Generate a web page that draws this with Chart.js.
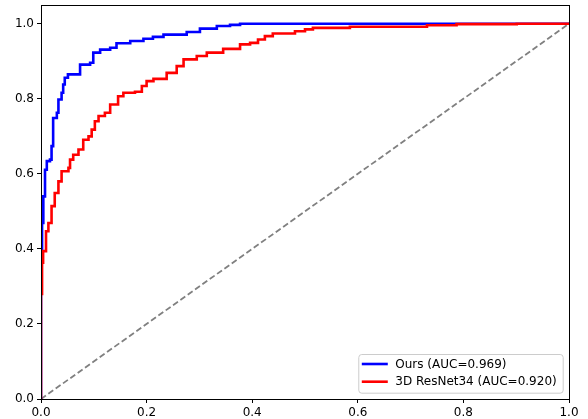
<!DOCTYPE html>
<html>
<head>
<meta charset="utf-8">
<script src="https://cdn.jsdelivr.net/npm/chart.js@4"></script>
<style>
  html, body { margin: 0; padding: 0; background: #fff; }
</style>
</head>
<body>
<canvas id="roc" width="588" height="419"></canvas>
<script>
// ROC points (fpr, tpr)
const oursFpr = [0, 0, 0.002, 0.0044, 0.0076, 0.011, 0.017, 0.020, 0.023, 0.030, 0.033, 0.039, 0.042, 0.045, 0.051, 0.074, 0.093, 0.099, 0.112, 0.131, 0.143, 0.169, 0.194, 0.212, 0.232, 0.276, 0.301, 0.333, 0.358, 0.377, 1.0];
const oursTpr = [0, 0.40, 0.469, 0.54, 0.611, 0.634, 0.638, 0.674, 0.749, 0.763, 0.798, 0.816, 0.838, 0.856, 0.865, 0.891, 0.896, 0.923, 0.931, 0.936, 0.948, 0.954, 0.96, 0.965, 0.971, 0.978, 0.987, 0.994, 0.997, 1.0, 1.0];

const resnetFpr = [0, 0, 0.002, 0.004, 0.0095, 0.014, 0.020, 0.026, 0.033, 0.039, 0.052, 0.055, 0.061, 0.071, 0.080, 0.090, 0.096, 0.102, 0.109, 0.121, 0.131, 0.146, 0.156, 0.178, 0.191, 0.200, 0.213, 0.238, 0.257, 0.270, 0.295, 0.314, 0.345, 0.377, 0.396, 0.411, 0.424, 0.439, 0.481, 0.500, 0.515, 0.585, 0.731, 0.787, 0.901, 1.0];
const resnetTpr = [0, 0.28, 0.363, 0.394, 0.447, 0.469, 0.514, 0.549, 0.58, 0.607, 0.616, 0.638, 0.651, 0.665, 0.691, 0.70, 0.718, 0.74, 0.754, 0.763, 0.785, 0.807, 0.816, 0.819, 0.834, 0.847, 0.853, 0.869, 0.887, 0.905, 0.914, 0.923, 0.933, 0.945, 0.949, 0.958, 0.967, 0.974, 0.98, 0.985, 0.989, 0.992, 0.996, 0.999, 1.0, 1.0];

const chanceX = [0, 1];
const chanceY = [0, 1];

const seriesLabels = ["Ours (AUC=0.969)", "3D ResNet34 (AUC=0.920)"];
const tickValues = [0, 0.2, 0.4, 0.6, 0.8, 1.0];

function toPoints(xs, ys) {
  return xs.map((x, i) => ({ x: x, y: ys[i] }));
}

const FONT = "DejaVu Sans";

// box around the plot + legend inside the axes, matplotlib style
const framePlugin = {
  id: "frame",
  afterDraw(chart) {
    const ctx = chart.ctx;
    const a = chart.chartArea;
    ctx.save();
    ctx.strokeStyle = "#000";
    ctx.lineWidth = 1;
    ctx.strokeRect(Math.round(a.left) + 0.5, Math.round(a.top) + 0.5,
      Math.round(a.right - a.left), Math.round(a.bottom - a.top));

    // legend
    ctx.font = "12px '" + FONT + "'";
    const items = chart.data.datasets.filter(d => d.label);
    let tw = 0;
    items.forEach(d => { tw = Math.max(tw, ctx.measureText(d.label).width); });
    const w = 4 + 26 + 7.5 + tw + 5.5;
    const h = 38.7;
    const x0 = a.right - 6.3 - w;
    const y0 = a.bottom - 6.3 - h;
    ctx.beginPath();
    ctx.roundRect(x0 + 0.5, y0 + 0.5, w, h, 3);
    ctx.fillStyle = "rgba(255,255,255,0.8)";
    ctx.fill();
    ctx.strokeStyle = "#cccccc";
    ctx.lineWidth = 1;
    ctx.stroke();
    items.forEach((d, i) => {
      const cy = y0 + 10 + i * 17.7;
      ctx.beginPath();
      ctx.moveTo(x0 + 3.5, cy);
      ctx.lineTo(x0 + 29.5, cy);
      ctx.strokeStyle = d.borderColor;
      ctx.lineWidth = 2.6;
      ctx.stroke();
      ctx.fillStyle = "#000";
      ctx.textBaseline = "middle";
      ctx.textAlign = "left";
      ctx.fillText(d.label, x0 + 37, cy + 0.5);
    });
    ctx.restore();
  }
};

const axisCommon = {
  type: "linear",
  min: 0,
  grid: {
    drawOnChartArea: false,
    drawTicks: true,
    tickLength: 4,
    tickWidth: 1,
    tickColor: "#000"
  },
  border: { display: false },
  ticks: {
    color: "#000",
    padding: 3,
    font: { family: FONT, size: 12 },
    callback: v => v.toFixed(1)
  },
  afterBuildTicks: scale => {
    scale.ticks = tickValues.map(v => ({ value: v }));
  }
};

new Chart(document.getElementById("roc"), {
  type: "line",
  data: {
    datasets: [
      {
        label: seriesLabels[0],
        data: toPoints(oursFpr, oursTpr),
        borderColor: "#0000ff",
        borderWidth: 2.6,
        stepped: "before",
        order: 2
      },
      {
        label: seriesLabels[1],
        data: toPoints(resnetFpr, resnetTpr),
        borderColor: "#ff0000",
        borderWidth: 2.6,
        stepped: "before",
        order: 1
      },
      {
        data: toPoints(chanceX, chanceY),
        borderColor: "#808080",
        borderWidth: 1.8,
        borderDash: [6, 3],
        order: 3
      }
    ]
  },
  options: {
    responsive: false,
    animation: false,
    layout: { padding: { top: 5, right: 19, left: 0, bottom: 0 } },
    elements: { point: { radius: 0 }, line: { tension: 0 } },
    plugins: {
      legend: { display: false },
      tooltip: { enabled: false }
    },
    scales: {
      x: Object.assign({}, axisCommon, {
        max: 1,
        afterFit: s => { s.height = 20; s.paddingLeft = 0; s.paddingRight = 0; }
      }),
      y: Object.assign({}, axisCommon, {
        max: 1.05,
        afterFit: s => { s.width = 41; s.paddingTop = 0; s.paddingBottom = 0; }
      })
    }
  },
  plugins: [framePlugin]
});
</script>
</body>
</html>
